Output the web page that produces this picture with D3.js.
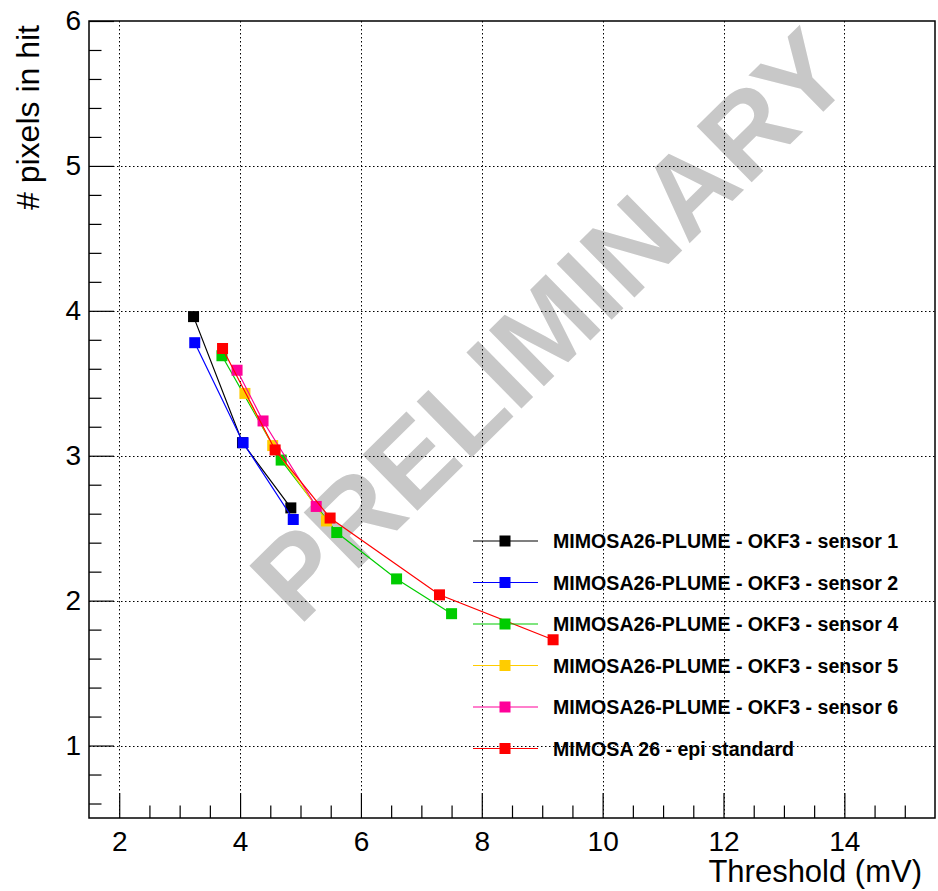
<!DOCTYPE html>
<html>
<head>
<meta charset="utf-8">
<script src="https://cdn.jsdelivr.net/npm/d3@7"></script>
<style>
    body { margin: 0; background: #fff; }
    text { font-family: "Liberation Sans", Arial, sans-serif; }
</style>
</head>
<body>
<svg id="chart" width="938" height="891"></svg>
<script>
/*
 *  Values: threshold (mV) vs mean number of pixels in a hit
 */
const thresholdS1 = [3.23, 4.04, 4.84];
const pixelsS1 = [3.96, 3.09, 2.64];
const thresholdS2 = [3.25, 4.05, 4.88];
const pixelsS2 = [3.78, 3.09, 2.56];
const thresholdS4 = [3.70, 4.68, 5.60, 6.59, 7.50];
const pixelsS4 = [3.69, 2.97, 2.47, 2.15, 1.91];
const thresholdS5 = [4.08, 4.54, 5.43];
const pixelsS5 = [3.43, 3.07, 2.55];
const thresholdS6 = [3.95, 4.38, 5.26];
const pixelsS6 = [3.59, 3.24, 2.65];
const thresholdEpi = [3.71, 4.58, 5.49, 7.30, 9.18];
const pixelsEpi = [3.74, 3.04, 2.57, 2.04, 1.73];

const seriesNames = [
    "MIMOSA26-PLUME - OKF3 - sensor 1",
    "MIMOSA26-PLUME - OKF3 - sensor 2",
    "MIMOSA26-PLUME - OKF3 - sensor 4",
    "MIMOSA26-PLUME - OKF3 - sensor 5",
    "MIMOSA26-PLUME - OKF3 - sensor 6",
    "MIMOSA 26 - epi standard"
];
const seriesColors = ["#000000", "#0000ff", "#00cc00", "#ffcc00", "#ff0099", "#ff0000"];

const xTicks = [2, 4, 6, 8, 10, 12, 14];
const yTicks = [1, 2, 3, 4, 5, 6];

let series = [
    [thresholdS1, pixelsS1],
    [thresholdS2, pixelsS2],
    [thresholdS4, pixelsS4],
    [thresholdS5, pixelsS5],
    [thresholdS6, pixelsS6],
    [thresholdEpi, pixelsEpi]
].map(function (s, i) {
    return {
        name: seriesNames[i],
        color: seriesColors[i],
        points: s[0].map(function (t, j) { return { x: t, y: s[1][j] }; })
    };
});

const svg = d3.select("#chart");
const plotLeft = 89, plotRight = 935, plotTop = 21, plotBottom = 818;

const x = d3.scaleLinear().domain([1.5, 15.5]).range([plotLeft, plotRight]);
const y = d3.scaleLinear().domain([0.5, 6]).range([plotBottom, plotTop]);

/*
 *  Watermark (under the grid and the data)
 */
svg.append("text")
    .attr("transform", "translate(550,325) rotate(-44.5)")
    .attr("text-anchor", "middle")
    .attr("dominant-baseline", "central")
    .attr("font-size", 114)
    .attr("font-weight", "bold")
    .attr("fill", "#c8c8c8")
    .text("PRELIMINARY");

/*
 *  Dotted grid at the major ticks
 */
const grid = svg.append("g")
    .attr("stroke", "#000")
    .attr("stroke-width", 1)
    .attr("stroke-dasharray", "1.5,2.5");
grid.selectAll("line.vx")
    .data(xTicks)
    .join("line")
    .attr("class", "vx")
    .attr("x1", function (d) { return Math.round(x(d)) + 0.5; })
    .attr("x2", function (d) { return Math.round(x(d)) + 0.5; })
    .attr("y1", plotTop)
    .attr("y2", plotBottom);
grid.selectAll("line.hy")
    .data(yTicks.filter(function (d) { return d < 6; }))
    .join("line")
    .attr("class", "hy")
    .attr("y1", function (d) { return Math.round(y(d)) + 0.5; })
    .attr("y2", function (d) { return Math.round(y(d)) + 0.5; })
    .attr("x1", plotLeft)
    .attr("x2", plotRight);

/*
 *  Axes: major and minor ticks drawn inward, no domain path
 */
const xMinor = d3.range(2, 15.5, 0.5).filter(function (d) { return d % 2 !== 0; });
const yMinor = d3.range(0.6, 6, 0.2).filter(function (d) { return Math.abs(d - Math.round(d)) > 0.01; });

const xAxis = svg.append("g")
    .attr("transform", "translate(0," + plotBottom + ")")
    .call(d3.axisBottom(x).tickValues(xTicks).tickSize(-25).tickPadding(13).tickFormat(d3.format("d")));
const xAxisMinor = svg.append("g")
    .attr("transform", "translate(0," + plotBottom + ")")
    .call(d3.axisBottom(x).tickValues(xMinor).tickSize(-12.5).tickFormat(""));
const yAxis = svg.append("g")
    .attr("transform", "translate(" + plotLeft + ",0)")
    .call(d3.axisLeft(y).tickValues(yTicks).tickSize(-25).tickPadding(8).tickFormat(d3.format("d")));
const yAxisMinor = svg.append("g")
    .attr("transform", "translate(" + plotLeft + ",0)")
    .call(d3.axisLeft(y).tickValues(yMinor).tickSize(-12.5).tickFormat(""));

[xAxis, xAxisMinor, yAxis, yAxisMinor].forEach(function (g) {
    g.select(".domain").remove();
    g.selectAll(".tick line").attr("stroke", "#000").attr("stroke-width", 1.2);
    g.selectAll(".tick text")
        .attr("font-family", "'Liberation Sans', Arial, sans-serif")
        .attr("font-size", 28)
        .attr("fill", "#000");
});

/*
 *  Frame
 */
svg.append("rect")
    .attr("x", plotLeft)
    .attr("y", plotTop)
    .attr("width", plotRight - plotLeft)
    .attr("height", plotBottom - plotTop)
    .attr("fill", "none")
    .attr("stroke", "#000")
    .attr("stroke-width", 1.5);

/*
 *  Axis titles
 */
svg.append("text")
    .attr("x", 922)
    .attr("y", 882)
    .attr("text-anchor", "end")
    .attr("font-size", 31)
    .text("Threshold (mV)");
svg.append("text")
    .attr("transform", "translate(39,25) rotate(-90)")
    .attr("text-anchor", "end")
    .attr("font-size", 32)
    .text("# pixels in hit");

/*
 *  Series: polyline plus square markers
 */
const line = d3.line()
    .x(function (d) { return x(d.x); })
    .y(function (d) { return y(d.y); });
const markerSize = 11;

series.forEach(function (s) {
    const g = svg.append("g");
    g.append("path")
        .datum(s.points)
        .attr("d", line)
        .attr("fill", "none")
        .attr("stroke", s.color)
        .attr("stroke-width", 1.2);
    g.selectAll("rect")
        .data(s.points)
        .join("rect")
        .attr("x", function (d) { return x(d.x) - markerSize / 2; })
        .attr("y", function (d) { return y(d.y) - markerSize / 2; })
        .attr("width", markerSize)
        .attr("height", markerSize)
        .attr("fill", s.color);
});

/*
 *  Legend (no border)
 */
const legend = svg.append("g");
series.forEach(function (s, i) {
    const ly = 541 + i * 41.5;
    legend.append("line")
        .attr("x1", 473)
        .attr("x2", 538)
        .attr("y1", ly)
        .attr("y2", ly)
        .attr("stroke", s.color)
        .attr("stroke-width", 1.2);
    legend.append("rect")
        .attr("x", 505 - markerSize / 2)
        .attr("y", ly - markerSize / 2)
        .attr("width", markerSize)
        .attr("height", markerSize)
        .attr("fill", s.color);
    legend.append("text")
        .attr("x", 553)
        .attr("y", ly)
        .attr("dy", "0.36em")
        .attr("font-size", 19.6)
        .attr("font-weight", "bold")
        .text(s.name);
});
</script>
</body>
</html>
